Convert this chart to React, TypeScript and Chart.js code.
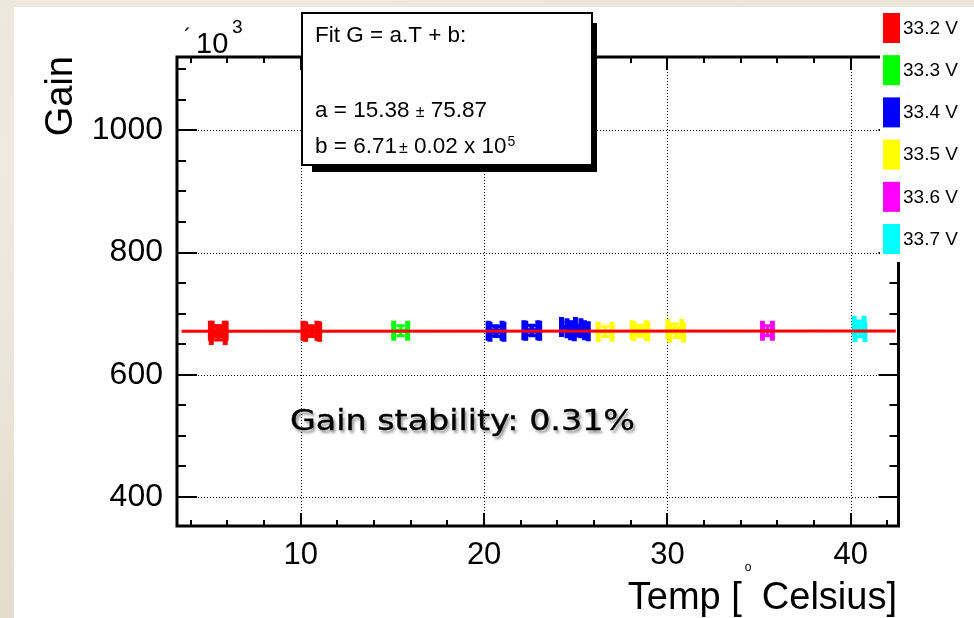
import React, { useEffect, useRef } from 'react';
import { Chart, registerables } from 'chart.js';

Chart.register(...registerables);

const FONT = "'Liberation Sans', Arial, Helvetica, sans-serif";

// ---- data (Gain in units of 10^3, Temp in Celsius) ----
const voltageLabels = ['33.2 V', '33.3 V', '33.4 V', '33.5 V', '33.6 V', '33.7 V'];
const voltageColors = ['#ff0000', '#00ff00', '#0000ff', '#ffff00', '#ff00ff', '#00ffff'];

const tempsV332 = [5.45, 5.5, 5.5, 5.55, 10.5, 10.6, 10.65];
const gainsV332 = [672, 670, 665, 672, 672, 671, 670.5];
const tempsV333 = [15.45];
const gainsV333 = [672];
const tempsV334 = [20.6, 20.7, 22.55, 22.65, 24.6, 24.9, 25.1, 25.3];
const gainsV334 = [672, 670.5, 673, 672, 678, 676, 673, 671];
const tempsV335 = [26.6, 28.45, 28.55, 30.4, 30.5];
const gainsV335 = [670.5, 673, 671, 675, 669];
const tempsV336 = [35.45];
const gainsV336 = [672];
const tempsV337 = [40.45, 40.5];
const gainsV337 = [680, 670];

const tempErrors = [0.38, 0.38, 0.38, 0.38, 0.27, 0.27];
const gainErrors = [8, 8, 8, 8, 8, 8];

const seriesTemps = [tempsV332, tempsV333, tempsV334, tempsV335, tempsV336, tempsV337];
const seriesGains = [gainsV332, gainsV333, gainsV334, gainsV335, gainsV336, gainsV337];

const xTickLabels = [10, 20, 30, 40];
const yTickLabels = [400, 600, 800, 1000];
const xMinorStep = 2;
const yMinorStep = 50;
const xRange = [3.25, 42.6];
const yRange = [352.5, 1120];

// fit G = a.T + b  (a in gain/Celsius, b in units of 10^5)
const fitA = 15.38;
const fitAErr = 75.87;
const fitB = 6.71;
const fitBErr = 0.02;
const fitTempRange = [3.5, 42.45];
const stabilityText = 'Gain stability: 0.31%';

function fitGain(t: number) {
  return (fitA * t + fitB * 1e5) / 1000;
}

function seg(ctx: CanvasRenderingContext2D, x1: number, y1: number, x2: number, y2: number) {
  ctx.beginPath();
  ctx.moveTo(x1, y1);
  ctx.lineTo(x2, y2);
  ctx.stroke();
}

const rootPlugin = {
  id: 'rootStyle',
  beforeDraw(chart: any) {
    const ctx = chart.ctx as CanvasRenderingContext2D;
    ctx.save();
    ctx.fillStyle = '#ffffff';
    ctx.fillRect(14, 7, 960, 611);
    ctx.restore();
  },
  beforeDatasetsDraw(chart: any) {
    const ctx = chart.ctx as CanvasRenderingContext2D;
    const a = chart.chartArea;
    const xs = chart.scales.x;
    const ys = chart.scales.y;
    ctx.save();
    // dotted grid
    ctx.strokeStyle = '#000';
    ctx.lineWidth = 1;
    ctx.setLineDash([1, 2]);
    xTickLabels.forEach((v) => {
      const px = Math.round(xs.getPixelForValue(v)) + 0.5;
      seg(ctx, px, a.top, px, a.bottom);
    });
    yTickLabels.forEach((v) => {
      const py = Math.round(ys.getPixelForValue(v)) + 0.5;
      seg(ctx, a.left, py, a.right, py);
    });
    ctx.setLineDash([]);
    // error bars
    ctx.beginPath();
    ctx.rect(a.left, a.top, a.right - a.left, a.bottom - a.top);
    ctx.clip();
    seriesTemps.forEach((temps, i) => {
      const color = voltageColors[i];
      ctx.strokeStyle = color;
      ctx.fillStyle = color;
      temps.forEach((t, j) => {
        const g = seriesGains[i][j];
        const px = xs.getPixelForValue(t);
        const py = ys.getPixelForValue(g);
        const exL = xs.getPixelForValue(t - tempErrors[i]);
        const exR = xs.getPixelForValue(t + tempErrors[i]);
        const eyT = ys.getPixelForValue(g + gainErrors[i]);
        const eyB = ys.getPixelForValue(g - gainErrors[i]);
        ctx.lineWidth = 4;
        seg(ctx, exL, py, exR, py);
        ctx.lineWidth = 5;
        seg(ctx, exL, py - 10, exL, py + 10);
        seg(ctx, exR, py - 10, exR, py + 10);
        ctx.lineWidth = 3;
        seg(ctx, px, eyT, px, eyB);
        seg(ctx, px - 4, eyT, px + 4, eyT);
        seg(ctx, px - 4, eyB, px + 4, eyB);
      });
    });
    ctx.restore();
  },
  afterDatasetsDraw(chart: any) {
    const ctx = chart.ctx as CanvasRenderingContext2D;
    const a = chart.chartArea;
    const xs = chart.scales.x;
    const ys = chart.scales.y;
    ctx.save();
    ctx.strokeStyle = '#000';
    ctx.fillStyle = '#000';
    // ticks
    ctx.lineWidth = 2;
    for (let v = Math.ceil(xRange[0] / xMinorStep) * xMinorStep; v <= xRange[1]; v += xMinorStep) {
      const px = Math.round(xs.getPixelForValue(v));
      const len = v % 10 === 0 ? 13 : 6;
      seg(ctx, px, a.bottom, px, a.bottom - len);
      seg(ctx, px, a.top, px, a.top + len);
    }
    for (let v = Math.ceil(yRange[0] / yMinorStep) * yMinorStep; v <= yRange[1]; v += yMinorStep) {
      const py = Math.round(ys.getPixelForValue(v));
      const len = v % 200 === 0 ? 20 : 9;
      seg(ctx, a.left, py, a.left + len, py);
      seg(ctx, a.right, py, a.right - len, py);
    }
    // frame
    ctx.lineWidth = 3;
    ctx.strokeRect(a.left, a.top, a.right - a.left, a.bottom - a.top);

    // stability annotation
    ctx.save();
    ctx.font = "28px 'Comic Sans MS', 'DejaVu Sans', sans-serif";
    const sw = ctx.measureText(stabilityText).width;
    const sx = 345 / sw;
    ctx.translate(290, 430);
    ctx.scale(sx, 1);
    ctx.shadowColor = 'rgba(0,0,0,0.45)';
    ctx.shadowOffsetX = 2;
    ctx.shadowOffsetY = 3;
    ctx.shadowBlur = 3;
    ctx.textAlign = 'left';
    ctx.textBaseline = 'alphabetic';
    ctx.fillStyle = '#000';
    ctx.strokeStyle = '#000';
    ctx.lineWidth = 0.35;
    ctx.fillText(stabilityText, 0, 0);
    ctx.shadowColor = 'transparent';
    ctx.strokeText(stabilityText, 0, 0);
    ctx.restore();

    // fit box
    ctx.fillStyle = '#000';
    ctx.fillRect(312, 23, 285, 149);
    ctx.fillStyle = '#fff';
    ctx.fillRect(302, 13, 290, 152);
    ctx.lineWidth = 2;
    ctx.strokeRect(302, 13, 290, 152);
    ctx.fillStyle = '#000';
    ctx.textAlign = 'left';
    ctx.textBaseline = 'alphabetic';
    ctx.font = `22.5px ${FONT}`;
    ctx.fillText('Fit G = a.T + b:', 315, 41.5);
    let cx = 315;
    let s1 = `a = ${fitA.toFixed(2)} `;
    ctx.fillText(s1, cx, 116.5);
    cx += ctx.measureText(s1).width;
    ctx.font = `16px ${FONT}`;
    ctx.fillText('\u00b1', cx, 116.5);
    cx += ctx.measureText('\u00b1').width;
    ctx.font = `22.5px ${FONT}`;
    ctx.fillText(` ${fitAErr.toFixed(2)}`, cx, 116.5);
    cx = 315;
    s1 = `b = ${fitB.toFixed(2)}`;
    ctx.fillText(s1, cx, 152.5);
    cx += ctx.measureText(s1).width + 2;
    ctx.font = `16px ${FONT}`;
    ctx.fillText('\u00b1', cx, 152.5);
    cx += ctx.measureText('\u00b1').width;
    ctx.font = `22.5px ${FONT}`;
    const s2 = ` ${fitBErr.toFixed(2)} x 10`;
    ctx.fillText(s2, cx, 152.5);
    cx += ctx.measureText(s2).width + 1;
    ctx.font = `14px ${FONT}`;
    ctx.fillText('5', cx, 146);

    // legend
    ctx.fillStyle = '#fff';
    ctx.fillRect(880, 7, 94, 255);
    voltageLabels.forEach((lab, i) => {
      const top = 13 + i * 42.2;
      ctx.fillStyle = voltageColors[i];
      ctx.fillRect(883, top, 17, 30);
      ctx.fillStyle = '#000';
      ctx.font = `19px ${FONT}`;
      ctx.textBaseline = 'middle';
      ctx.fillText(lab, 903, top + 15.5);
    });

    // axis titles
    ctx.textBaseline = 'alphabetic';
    ctx.fillStyle = '#000';
    // y title
    ctx.save();
    ctx.font = `38px ${FONT}`;
    ctx.translate(72, 56);
    ctx.rotate(-Math.PI / 2);
    ctx.textAlign = 'right';
    ctx.fillText('Gain', 0, 0);
    ctx.restore();
    // exponent
    ctx.textAlign = 'left';
    ctx.font = `22px ${FONT}`;
    ctx.fillText('\u00b4', 184, 44);
    ctx.font = `29px ${FONT}`;
    ctx.fillText('10', 196, 53);
    ctx.font = `19px ${FONT}`;
    ctx.fillText('3', 232, 33);
    // x title
    ctx.font = `38px ${FONT}`;
    ctx.textAlign = 'right';
    ctx.fillText('Celsius]', 897, 609);
    const cw = ctx.measureText('Celsius]').width;
    ctx.fillText('Temp [', 897 - cw - 20, 609);
    ctx.textAlign = 'left';
    ctx.font = `12px ${FONT}`;
    ctx.fillText('o', 897 - cw - 17, 571);
    ctx.restore();
  },
};

export default function App() {
  const ref = useRef<HTMLCanvasElement>(null);
  useEffect(() => {
    const canvas = ref.current;
    if (!canvas) return;
    const datasets: any[] = seriesTemps.map((temps, i) => ({
      type: 'scatter',
      label: voltageLabels[i],
      data: temps.map((t, j) => ({ x: t, y: seriesGains[i][j] })),
      pointRadius: 0,
      showLine: false,
      borderColor: voltageColors[i],
      backgroundColor: voltageColors[i],
    }));
    datasets.push({
      type: 'line',
      label: 'fit',
      data: fitTempRange.map((t) => ({ x: t, y: fitGain(t) })),
      borderColor: '#ff0000',
      borderWidth: 3,
      pointRadius: 0,
      fill: false,
    });
    const chart = new Chart(canvas, {
      type: 'scatter',
      data: { datasets },
      options: {
        responsive: false,
        animation: false,
        devicePixelRatio: 1,
        layout: { padding: { top: 57, right: 75.5, left: 0, bottom: 0 } },
        plugins: { legend: { display: false }, tooltip: { enabled: false } },
        scales: {
          x: {
            type: 'linear',
            position: 'bottom',
            min: xRange[0],
            max: xRange[1],
            grid: { display: false, drawTicks: false },
            border: { display: false },
            afterBuildTicks: (s: any) => {
              s.ticks = xTickLabels.map((v) => ({ value: v }));
            },
            afterFit: (s: any) => {
              s.height = 92;
            },
            ticks: {
              color: '#000',
              padding: 11,
              font: { family: FONT, size: 31 },
              callback: (v: any) => String(v),
              maxRotation: 0,
              autoSkip: false,
            },
          },
          y: {
            type: 'linear',
            position: 'left',
            min: yRange[0],
            max: yRange[1],
            grid: { display: false, drawTicks: false },
            border: { display: false },
            afterBuildTicks: (s: any) => {
              s.ticks = yTickLabels.map((v) => ({ value: v }));
            },
            afterFit: (s: any) => {
              s.width = 177;
            },
            ticks: {
              color: '#000',
              padding: 14,
              font: { family: FONT, size: 32 },
              callback: (v: any) => String(v),
              autoSkip: false,
            },
          },
        },
      },
      plugins: [rootPlugin],
    } as any);
    return () => chart.destroy();
  }, []);
  return (
    <div
      style={{
        position: 'fixed',
        left: 0,
        top: 0,
        width: 974,
        height: 618,
        overflow: 'hidden',
        background:
          'radial-gradient(ellipse at 20% 30%, #f1ebe1 0%, transparent 60%), radial-gradient(ellipse at 80% 70%, #e2d9c9 0%, transparent 60%), linear-gradient(180deg, #ece5d9, #e4dccd)',
      }}
    >
      <canvas ref={ref} width={974} height={618} style={{ display: 'block', width: 974, height: 618 }} />
    </div>
  );
}
